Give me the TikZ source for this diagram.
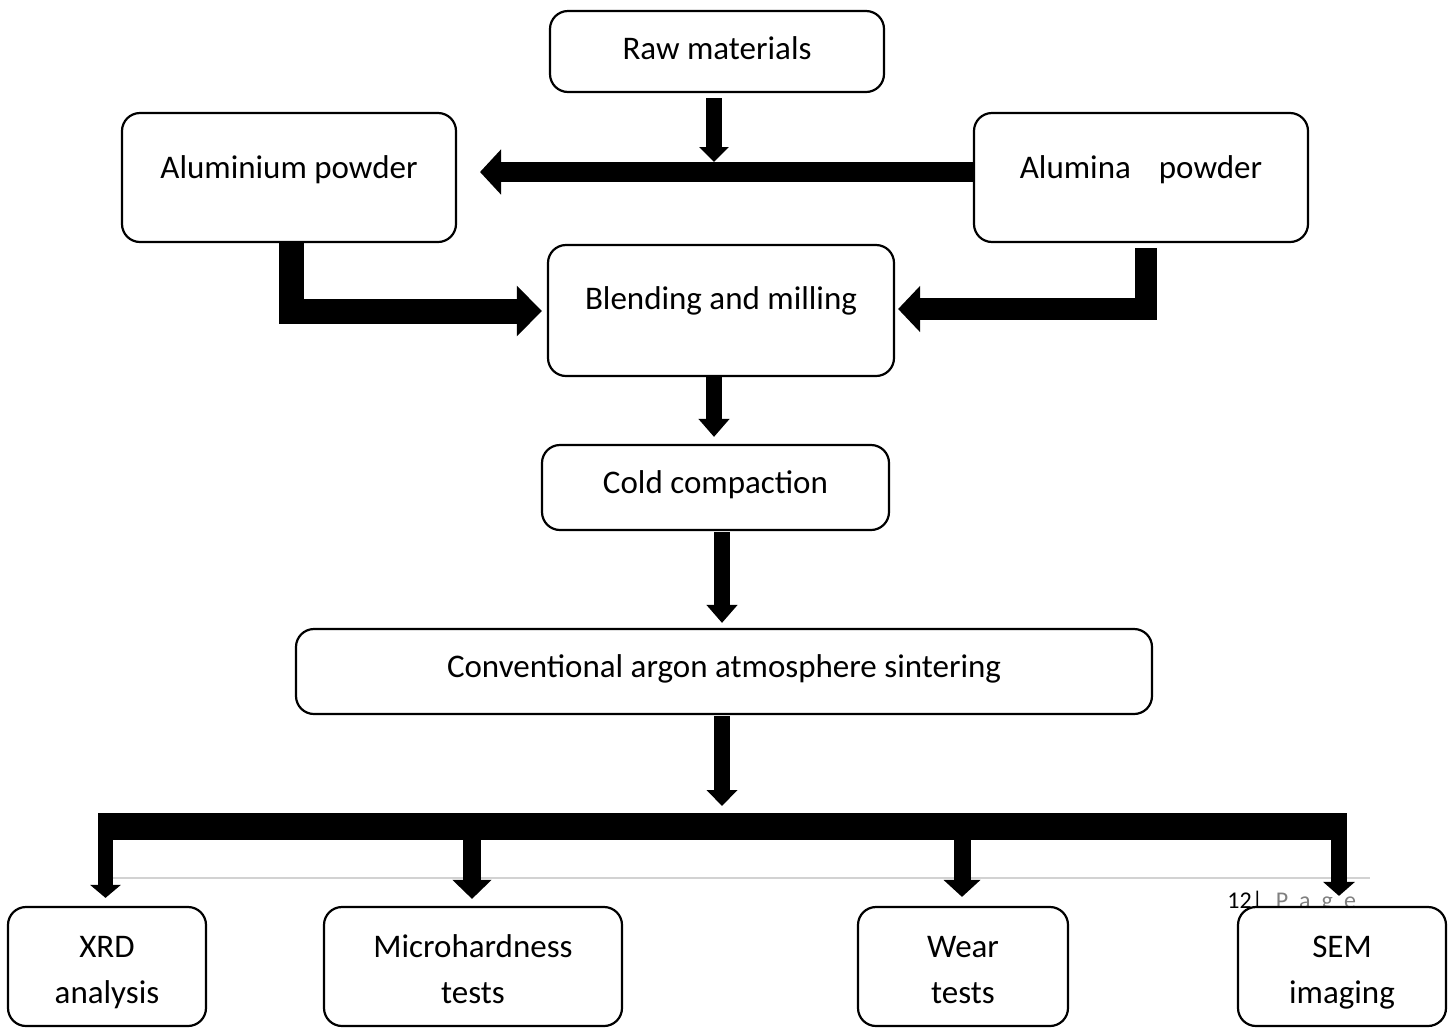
\documentclass[tikz,border=0pt]{standalone}
\usepackage{fontspec}
\setmainfont{Carlito}
\usetikzlibrary{arrows.meta,calc}
\begin{document}
\begin{tikzpicture}[x=0.5pt,y=-0.5pt,
  box/.style={draw, line width=1.1pt, rounded corners=9pt, fill=white, inner sep=0pt, align=center, font=\fontsize{16.5}{23}\selectfont, text height=12pt, text depth=4.5pt},
  twoline/.style={text height=41pt, text depth=4.5pt},
  blk/.style n args={3}{line width=#1, line join=miter, -{Triangle[width=#2,length=#3]}},
  busline/.style={line width=13.5pt}]
\useasboundingbox (0,0) rectangle (1455,1029);
% footer remnant
\coordinate (fl) at (113,878);
\coordinate (fr) at (1370,878);
\draw[gray!35, line width=0.6pt] (fl) -- (fr);
\node[anchor=base west, inner sep=0pt, font=\fontsize{12}{14}\selectfont] (pg) at (1227,908) {12|\hspace{6.5pt}{\color{gray}P\hspace{5.5pt}a\hspace{5.5pt}g\hspace{5.5pt}e}};
% boxes
\node[box, minimum width=167pt, minimum height=40.5pt] (raw) at (717,51.5) {Raw materials};
\node[box, minimum width=167pt, minimum height=64.5pt, text depth=11.4pt] (alu) at (289,177.5) {Aluminium powder};
\node[box, minimum width=167pt, minimum height=64.5pt, text depth=11.4pt] (alm) at (1141,177.5) {Alumina\hspace{14pt}powder};
\node[box, minimum width=173pt, minimum height=65.5pt, text depth=13.4pt] (blend) at (721,310.5) {Blending and milling};
\node[box, minimum width=173.5pt, minimum height=42.5pt, text depth=6.5pt] (cold) at (715.5,487.5) {Cold compaction};
\node[box, minimum width=428pt, minimum height=42.5pt, text depth=6.5pt] (conv) at (724,671.5) {Conventional argon atmosphere sintering};
\node[box, twoline, minimum width=99pt, minimum height=59.5pt] (xrd) at (107,966.5) {XRD\\analysis};
\node[box, twoline, minimum width=149pt, minimum height=59.5pt] (micro) at (473,966.5) {Microhardness\\tests};
\node[box, twoline, minimum width=105pt, minimum height=59.5pt] (wear) at (963,966.5) {Wear\\tests};
\node[box, twoline, minimum width=104pt, minimum height=59.5pt] (sem) at (1342,966.5) {SEM\\imaging};
% connector end points
\coordinate (hbar) at (714,162);
\coordinate (alutip) at (480,172);
\coordinate (lc) at (291.5,311);
\coordinate (rc) at (1146,309);
\coordinate (busL) at (98,826.5);
\coordinate (busR) at (1347,826.5);
% arrows
\draw[blk={8pt}{14.5pt}{7.5pt}] ($(raw.south)+(-3,5)$) -- (hbar);
\draw[blk={10pt}{22pt}{10.5pt}] ($(alm.west)+(0,-5.5)$) -- (alutip);
\draw[blk={12.5pt}{24.5pt}{12.5pt}] ($(alu.south)+(2.5,0)$) -- (lc) -- ($(blend.west)+(-5,0.5)$);
\draw[blk={11pt}{22.5pt}{11pt}] ($(alm.south)+(5,5)$) -- (rc) -- ($(blend.east)+(3,-1.5)$);
\draw[blk={8pt}{15pt}{9pt}] ($(blend.south)+(-7,0)$) -- ($(cold.north)+(-1.5,-7)$);
\draw[blk={8pt}{15pt}{9pt}] ($(cold.south)+(6.5,1)$) -- ($(conv.north)+(-2,-5)$);
\draw[blk={8pt}{15pt}{8pt}] ($(conv.south)+(-2,1)$) -- (722,806);
\draw[busline] (busL) -- (busR);
\draw[blk={7.5pt}{15pt}{6.5pt}] (105.5,826.5) -- ($(xrd.north)+(-1.5,-8)$);
\draw[blk={9pt}{19pt}{9.5pt}] (472,826.5) -- ($(micro.north)+(-1,-7)$);
\draw[blk={8.5pt}{18pt}{8.5pt}] (962,826.5) -- ($(wear.north)+(-1,-9)$);
\draw[blk={8pt}{15.5pt}{7pt}] (1339,826.5) -- ($(sem.north)+(-3,-10)$);
\end{tikzpicture}
\end{document}
